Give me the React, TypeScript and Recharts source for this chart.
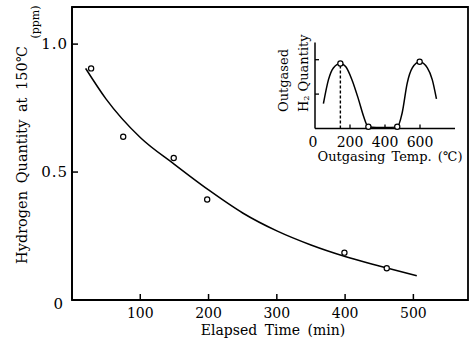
import React from "react";
import { ComposedChart, Line, Scatter, XAxis, YAxis, ReferenceArea, ReferenceLine } from "recharts";

const FONT = "'DejaVu Serif', serif";

// main plot: hydrogen left vs elapsed time
const elapsedTicks = [100, 200, 300, 400, 500];
const hydrogenTicks = [0, 0.5, 1.0];
const measuredTime = [28, 75, 149, 198, 399, 461];
const measuredH2 = [0.905, 0.638, 0.555, 0.393, 0.185, 0.124];
const fitTime = [20, 50, 100, 150, 200, 250, 300, 350, 400, 450, 505];
const fitH2 = [0.905, 0.785, 0.635, 0.53, 0.43, 0.34, 0.27, 0.215, 0.17, 0.133, 0.095];

// inset: outgassing spectrum
const tempTicks = [0, 200, 400, 600];
const qtyTicks = [1, 2];
const spectrumTemp = [48, 77, 105, 145, 175, 211, 249, 278, 303, 350, 400, 469, 498, 527, 556, 598, 642, 670, 694];
const spectrumQty = [0.72, 1.42, 1.76, 1.89, 1.8, 1.42, 0.84, 0.35, 0.06, 0.03, 0.03, 0.04, 0.45, 1.32, 1.76, 1.94, 1.76, 1.42, 0.86];
const markTemp = [145, 305, 470, 598];
const markQty = [1.89, 0.05, 0.05, 1.94];

const points = measuredTime.map((t, i) => ({ t, v: measuredH2[i] }));
const fit = fitTime.map((t, i) => ({ t, v: fitH2[i] }));
const spectrum = spectrumTemp.map((t, i) => ({ t, v: spectrumQty[i] }));
const marks = markTemp.map((t, i) => ({ t, v: markQty[i] }));

const Ring = (p: any) => (
  <circle cx={p.cx} cy={p.cy} r={2.6} fill="#fff" stroke="#000" strokeWidth={1.2} />
);

const MainXTick = ({ x, y, payload }: any) => (
  <g>
    <line x1={x} x2={x} y1={y} y2={y - 6} stroke="#000" strokeWidth={1.5} />
    <text x={x} y={y + 18} textAnchor="middle" fontSize={14} fontFamily={FONT} fill="#000">
      {payload.value}
    </text>
  </g>
);

const MainYTick = ({ x, y, payload }: any) => {
  const v = payload.value;
  if (v === 0) {
    return (
      <text x={x - 9} y={y + 9} textAnchor="end" fontSize={15} fontFamily={FONT} fill="#000">
        0
      </text>
    );
  }
  return (
    <g>
      <line x1={x} x2={x + 6} y1={y} y2={y} stroke="#000" strokeWidth={1.5} />
      <text x={x - 4} y={y + 5} textAnchor="end" fontSize={15} letterSpacing={1} fontFamily={FONT} fill="#000">
        {v.toFixed(1)}
      </text>
    </g>
  );
};

const InsetXTick = ({ x, y, payload }: any) => (
  <g>
    {payload.value > 0 && <line x1={x} x2={x} y1={y} y2={y - 4} stroke="#000" strokeWidth={1.3} />}
    <text x={payload.value === 0 ? x - 2 : x} y={y + 18} textAnchor="middle" fontSize={14} fontFamily={FONT} fill="#000">
      {payload.value}
    </text>
  </g>
);

const InsetYTick = ({ x, y }: any) => (
  <line x1={x} x2={x + 4} y1={y} y2={y} stroke="#000" strokeWidth={1.3} />
);

export default function App() {
  return (
    <div style={{ position: "absolute", left: 0, top: 0, width: 475, height: 348, background: "#fff" }}>
      <ComposedChart width={475} height={348} margin={{ top: 7, right: 7, bottom: 0, left: 0 }}>
        <XAxis
          type="number"
          dataKey="t"
          domain={[0, 580]}
          ticks={elapsedTicks}
          interval={0}
          height={48}
          tickSize={0}
          tickMargin={0}
          tickLine={false}
          axisLine={{ stroke: "#000", strokeWidth: 1.8 }}
          tick={MainXTick}
        />
        <YAxis
          type="number"
          dataKey="v"
          domain={[0, 1.145]}
          ticks={hydrogenTicks}
          interval={0}
          width={72}
          tickSize={0}
          tickMargin={0}
          tickLine={false}
          axisLine={{ stroke: "#000", strokeWidth: 1.8 }}
          tick={MainYTick}
        />
        <ReferenceArea x1={0} x2={580} y1={0} y2={1.145} fill="none" stroke="#000" strokeWidth={1.8} ifOverflow="visible" />
        <Line data={fit} dataKey="v" type="monotone" stroke="#000" strokeWidth={1.5} dot={false} isAnimationActive={false} />
        <Scatter data={points} dataKey="v" shape={Ring} isAnimationActive={false} />
      </ComposedChart>

      <div style={{ position: "absolute", left: 255, top: 20 }}>
        <ComposedChart width={205} height={150} margin={{ top: 22.5, right: 5, bottom: 0, left: 0 }}>
          <XAxis
            type="number"
            dataKey="t"
            domain={[0, 800]}
            ticks={tempTicks}
            interval={0}
            height={41.5}
            tickSize={0}
            tickMargin={0}
            tickLine={false}
            axisLine={{ stroke: "#000", strokeWidth: 1.5 }}
            tick={InsetXTick}
          />
          <YAxis
            type="number"
            dataKey="v"
            domain={[0, 2.5]}
            ticks={qtyTicks}
            interval={0}
            width={60}
            tickSize={0}
            tickMargin={0}
            tickLine={false}
            axisLine={{ stroke: "#000", strokeWidth: 1.5 }}
            tick={InsetYTick}
          />
          <ReferenceLine
            segment={[{ x: markTemp[0], y: 0 }, { x: markTemp[0], y: markQty[0] }]}
            stroke="#000"
            strokeWidth={1.4}
            strokeDasharray="3 2"
          />
          <Line data={spectrum} dataKey="v" type="monotone" stroke="#000" strokeWidth={1.5} dot={false} isAnimationActive={false} />
          <Scatter data={marks} dataKey="v" shape={Ring} isAnimationActive={false} />
        </ComposedChart>
      </div>

      <svg width={475} height={348} style={{ position: "absolute", left: 0, top: 0, pointerEvents: "none" }}>
        <g fontFamily={FONT} fill="#000">
          <text x={22} y={155} transform="rotate(-90 22 155)" textAnchor="middle" dominantBaseline="central" fontSize={14.5} wordSpacing={3}>
            Hydrogen Quantity at 150℃
          </text>
          <text x={35} y={22} transform="rotate(-90 35 22)" textAnchor="middle" dominantBaseline="central" fontSize={11}>
            (ppm)
          </text>
          <text x={273} y={335} textAnchor="middle" fontSize={14} wordSpacing={3}>
            Elapsed Time (min)
          </text>
          <text x={283} y={112} transform="rotate(-90 283 112)" textAnchor="start" dominantBaseline="central" fontSize={13}>
            Outgased
          </text>
          <text x={303} y={112} transform="rotate(-90 303 112)" textAnchor="start" dominantBaseline="central" fontSize={13}>
            H<tspan fontSize={8} dy={3}>2</tspan>
            <tspan dy={-3}> Quantity</tspan>
          </text>
          <text x={390} y={161} textAnchor="middle" fontSize={13} wordSpacing={2}>
            Outgasing Temp. (℃)
          </text>
        </g>
      </svg>
    </div>
  );
}
